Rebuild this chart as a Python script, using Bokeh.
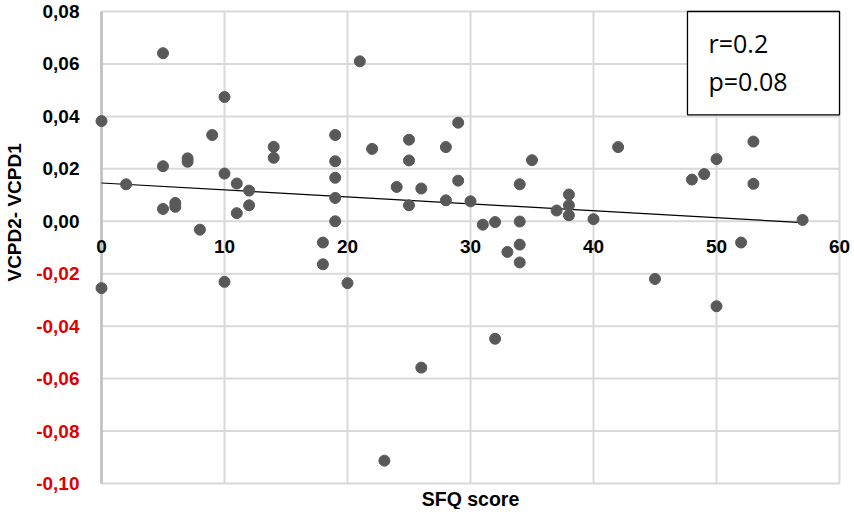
import math
from bokeh.plotting import figure
from bokeh.models import (ColumnDataSource, LabelSet, Label, BoxAnnotation, Range1d)
from bokeh.core.properties import value
from bokeh.embed import file_html
from bokeh.resources import INLINE

# ---- data ----
sfq = [0, 0, 2, 5, 5, 5, 6, 6, 7, 7, 8, 9, 10, 10, 10, 11, 11, 12, 12, 14, 14,
       18, 18, 19, 19, 19, 19, 19, 20, 21, 22, 23, 24, 25, 25, 25, 26, 26, 28, 28,
       29, 29, 30, 31, 32, 32, 33, 34, 34, 34, 34, 35, 37, 38, 38, 38, 40, 42, 45,
       48, 49, 50, 50, 52, 53, 53, 57]
vcpd = [0.0382, -0.0255, 0.0141, 0.0641, 0.0210, 0.0047, 0.0070, 0.0055, 0.0240,
        0.0227, -0.0032, 0.0329, 0.0474, 0.0182, -0.0231, 0.0144, 0.0031, 0.0117,
        0.0061, 0.0284, 0.0242, -0.0081, -0.0164, 0.0329, 0.0229, 0.0166, 0.0089,
        0.0000, -0.0236, 0.0610, 0.0276, -0.0913, 0.0131, 0.0311, 0.0232, 0.0061,
        0.0125, -0.0558, 0.0283, 0.0080, 0.0376, 0.0155, 0.0076, -0.0013, -0.0003,
        -0.0448, -0.0117, 0.0141, -0.0001, -0.0089, -0.0157, 0.0233, 0.0041, 0.0102,
        0.0061, 0.0023, 0.0008, 0.0283, -0.0220, 0.0159, 0.0180, 0.0237, -0.0324,
        -0.0081, 0.0304, 0.0143, 0.0005]

trend_x = [0, 57]
trend_y = [0.0146, -0.0005]

x_ticks = [0, 10, 20, 30, 40, 50, 60]
x_tick_labels = ["0", "10", "20", "30", "40", "50", "60"]
y_ticks = [-0.10, -0.08, -0.06, -0.04, -0.02, 0.00, 0.02, 0.04, 0.06, 0.08]
y_tick_labels = ["-0,10", "-0,08", "-0,06", "-0,04", "-0,02", "0,00", "0,02",
                 "0,04", "0,06", "0,08"]

stats_lines = ["r=0.2", "p=0.08"]
x_title = "SFQ score"
y_title = "VCPD2- VCPD1"

# ---- layout (pixels) ----
W, H = 852, 509
PLOT_L, PLOT_R, PLOT_T, PLOT_B = 101, 839, 11, 483
x_min, x_max = min(x_ticks), max(x_ticks)
y_min, y_max = min(y_ticks), max(y_ticks)
kx = (PLOT_R - PLOT_L) / (x_max - x_min)
ky = (PLOT_B - PLOT_T) / (y_max - y_min)
xr = Range1d(x_min - PLOT_L / kx, x_min - PLOT_L / kx + W / kx)
yr = Range1d(y_max + PLOT_T / ky - H / ky, y_max + PLOT_T / ky)

p = figure(width=W, height=H, output_backend="svg", toolbar_location=None,
           x_range=xr, y_range=yr, min_border=0)
p.min_border_left = p.min_border_right = p.min_border_top = p.min_border_bottom = 0
p.outline_line_color = None
p.xaxis.visible = False
p.yaxis.visible = False
p.xgrid.visible = False
p.ygrid.visible = False

GRID = "#d9d9d9"
# gridlines limited to the plot area
p.segment(x0=x_ticks, x1=x_ticks, y0=[y_min] * len(x_ticks), y1=[y_max] * len(x_ticks),
          line_color=GRID, line_width=2)
p.segment(x0=[x_min] * len(y_ticks), x1=[x_max] * len(y_ticks), y0=y_ticks, y1=y_ticks,
          line_color=GRID, line_width=2)
# vertical axis line at x = 0
p.segment(x0=[x_min], x1=[x_min], y0=[y_min], y1=[y_max], line_color="#bfbfbf",
          line_width=2.5)

# trend line and points
p.line(trend_x, trend_y, line_color="black", line_width=1.2)
p.scatter(sfq, vcpd, size=11, fill_color="#595959", line_color="#595959")

FONT = "Liberation Sans"
# y tick labels (negative values in red)
ysrc = ColumnDataSource(dict(
    x=[x_min] * len(y_ticks), y=y_ticks, text=y_tick_labels,
    color=["#e00000" if v < 0 else "black" for v in y_ticks]))
p.add_layout(LabelSet(x="x", y="y", text="text", source=ysrc, x_offset=-22,
                      text_align="right", text_baseline="middle",
                      text_color="color", text_font=value(FONT),
                      text_font_style="bold", text_font_size="19px"))

# x tick labels, placed just under the zero line
xsrc = ColumnDataSource(dict(x=x_ticks, y=[0] * len(x_ticks), text=x_tick_labels))
p.add_layout(LabelSet(x="x", y="y", text="text", source=xsrc, y_offset=-25,
                      text_align="center", text_baseline="middle",
                      text_color="black", text_font=value(FONT),
                      text_font_style="bold", text_font_size="19px"))

# axis titles
p.add_layout(Label(x=(x_min + x_max) / 2, y=y_min, y_offset=-15, text=x_title,
                   text_align="center", text_baseline="middle", text_font=FONT,
                   text_font_style="bold", text_font_size="19.5px",
                   text_color="black"))
p.add_layout(Label(x=x_min, y=0.0034, x_offset=-87, text=y_title, angle=math.pi / 2,
                   text_align="center", text_baseline="middle", text_font=FONT,
                   text_font_style="bold", text_font_size="19px",
                   text_color="black"))

# statistics box
p.add_layout(BoxAnnotation(left=47.64, right=x_max, bottom=0.0406, top=y_max,
                           fill_color="white", fill_alpha=1.0,
                           line_color="black", line_width=1.3, line_alpha=1.0))
p.add_layout(Label(x=49.35, y=0.0681, text=stats_lines[0], text_align="left",
                   text_baseline="middle", text_font="Open Sans",
                   text_font_size="25px", text_color="black"))
p.add_layout(Label(x=49.35, y=0.0535, text=stats_lines[1], text_align="left",
                   text_baseline="middle", text_font="Open Sans",
                   text_font_size="25px", text_color="black"))

open("out.html", "w").write(file_html(p, INLINE))
